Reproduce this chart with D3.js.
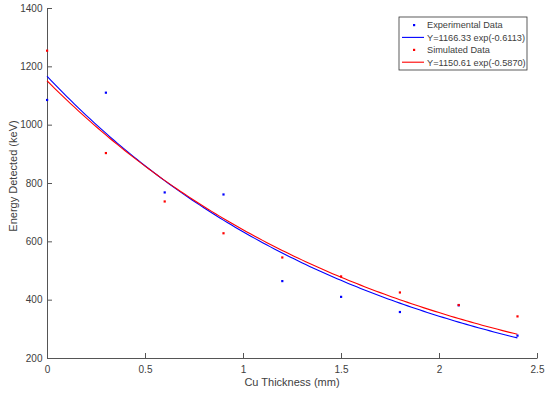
<!DOCTYPE html>
<html>
<head>
<meta charset="utf-8">
<script src="https://cdn.jsdelivr.net/npm/d3@7"></script>
<style>
	body { margin: 0; background: #fff; }
	text { font-family: "Liberation Sans", Arial, sans-serif; fill: #404040; }
</style>
</head>
<body>
<script>
const width = 550,
	height = 394

// data
const thickness = [0, 0.3, 0.6, 0.9, 1.2, 1.5, 1.8, 2.1, 2.4]
const experimental = [1085, 1110, 768, 761, 464, 410, 358, 381, 277]
const simulated = [1254, 903, 737, 628, 545, 480, 425, 382, 343]
const expFit = [1166.33, -0.6113]
const simFit = [1150.61, -0.5870]
const xTicks = [0, 0.5, 1, 1.5, 2, 2.5]
const yTicks = [200, 400, 600, 800, 1000, 1200, 1400]

const colors = { exp: '#0000ff', sim: '#ff0000' }

const margin = { left: 47, right: 13, top: 8, bottom: 36 }

const x = d3.scaleLinear().domain([0, 2.5]).range([margin.left, width - margin.right])
const y = d3.scaleLinear().domain([200, 1400]).range([height - margin.bottom, margin.top])

const svg = d3.select("body").append("svg")
	.attr("width", width)
	.attr("height", height)

const styleAxis = g => {
	g.selectAll("line, path").attr("stroke", "#555")
	g.selectAll("text").attr("font-size", 10).attr("fill", "#404040")
		.attr("font-family", "Liberation Sans, Arial, sans-serif")
}

// axes (ticks point inward)
svg.append("g")
	.attr("transform", `translate(0,${y(200)})`)
	.call(d3.axisBottom(x).tickValues(xTicks).tickSizeInner(-5).tickSizeOuter(0).tickPadding(8)
		.tickFormat(d => d))
	.call(styleAxis)

svg.append("g")
	.attr("transform", `translate(${x(0)},0)`)
	.call(d3.axisLeft(y).tickValues(yTicks).tickSizeInner(-5).tickSizeOuter(0).tickPadding(4.5)
		.tickFormat(d => d))
	.call(styleAxis)

svg.append("text")
	.attr("x", x(1.25))
	.attr("y", 386)
	.attr("text-anchor", "middle")
	.attr("font-size", 11)
	.text("Cu Thickness (mm)")

svg.append("text")
	.attr("transform", "translate(16.5,176) rotate(-90)")
	.attr("text-anchor", "middle")
	.attr("font-size", 11)
	.text("Energy Detected (keV)")

// fitted curves
const fitLine = d3.line().x(d => x(d[0])).y(d => y(d[1]))
const xs = d3.range(0, 2.4001, 0.02)

const drawFit = (fit, color) => {
	svg.append("path")
		.datum(xs.map(t => [t, fit[0] * Math.exp(fit[1] * t)]))
		.attr("fill", "none")
		.attr("stroke", color)
		.attr("stroke-width", 1.1)
		.attr("d", fitLine)
}
drawFit(expFit, colors.exp)
drawFit(simFit, colors.sim)

const drawPoints = (vals, color) => {
	svg.append("g").selectAll("rect")
		.data(vals)
		.join("rect")
		.attr("x", (d, i) => x(thickness[i]) - 1)
		.attr("y", d => y(d) - 1)
		.attr("width", 2.2)
		.attr("height", 2.2)
		.attr("fill", color)
}
drawPoints(experimental, colors.exp)
drawPoints(simulated, colors.sim)

// legend
const legend = svg.append("g").attr("transform", "translate(399,17)")
legend.append("rect")
	.attr("width", 128).attr("height", 53)
	.attr("fill", "#fff").attr("stroke", "#333").attr("stroke-width", 0.8)

const legendItems = [
	{ label: "Experimental Data", type: "dot", color: colors.exp },
	{ label: `Y=${expFit[0]} exp(${expFit[1]})`, type: "line", color: colors.exp },
	{ label: "Simulated Data", type: "dot", color: colors.sim },
	{ label: `Y=${simFit[0]} exp(${simFit[1].toFixed(4)})`, type: "line", color: colors.sim }
]
legendItems.forEach((it, i) => {
	const cy = 8 + i * 12.4
	if (it.type === "dot") {
		legend.append("rect").attr("x", 14).attr("y", cy - 1).attr("width", 2.2).attr("height", 2.2).attr("fill", it.color)
	} else {
		legend.append("line").attr("x1", 3).attr("x2", 25).attr("y1", cy).attr("y2", cy)
			.attr("stroke", it.color).attr("stroke-width", 1.1)
	}
	legend.append("text")
		.attr("x", 28).attr("y", cy + 3.3)
		.attr("font-size", 9.2)
		.text(it.label)
})
</script>
</body>
</html>
